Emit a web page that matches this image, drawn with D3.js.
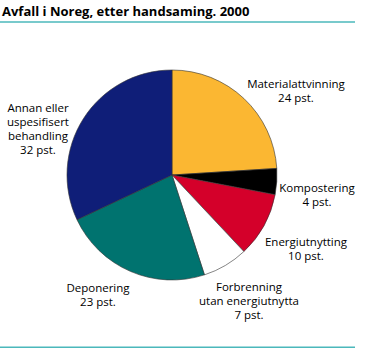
<!DOCTYPE html>
<html>
<head>
<meta charset="utf-8">
<script src="https://cdn.jsdelivr.net/npm/d3@7"></script>
<style>
  body { margin: 0; background: #fff; }
  svg { display: block; }
  text { font-family: "Open Sans", "DejaVu Sans", sans-serif; fill: #000; }
</style>
</head>
<body>
<svg id="chart" width="367" height="349"></svg>
<script>
// Waste treatment shares, Norway 2000 (per cent), clockwise from 12 o'clock
const categories = ["Materialattvinning", "Kompostering", "Energiutnytting",
  "Forbrenning utan energiutnytta", "Deponering", "Annan eller uspesifisert behandling"];
const values = [24, 4, 10, 7, 23, 32];
const colors = ["#fbb732", "#000000", "#d4002a", "#ffffff", "#00736f", "#0f1e78"];
// Label lines for each slice
const labelLines = [
  ["Materialattvinning", "24 pst."],
  ["Kompostering", "4 pst."],
  ["Energiutnytting", "10 pst."],
  ["Forbrenning", "utan energiutnytta", "7 pst."],
  ["Deponering", "23 pst."],
  ["Annan eller", "uspesifisert", "behandling", "32 pst."]
];
// Label anchor points (centre x, first baseline y)
const labelPos = [[296, 88], [317, 192], [306, 246], [249, 291], [98, 292], [38, 112]];

const svg = d3.select("#chart");
const cx = 172, cy = 175, r = 105;

svg.append("text")
  .attr("x", 2).attr("y", 16)
  .style("font-size", "13px").style("font-weight", "bold")
  .text("Avfall i Noreg, etter handsaming. 2000");

svg.append("line").attr("x1", 0).attr("x2", 355).attr("y1", 22).attr("y2", 22)
  .attr("stroke", "#4bb8bb").attr("stroke-width", 1.6);
svg.append("line").attr("x1", 0).attr("x2", 355).attr("y1", 347.3).attr("y2", 347.3)
  .attr("stroke", "#4bb8bb").attr("stroke-width", 1.6);

const pie = d3.pie().sort(null).value(d => d)(values);
const arc = d3.arc().innerRadius(0).outerRadius(r);

svg.append("g").attr("transform", `translate(${cx},${cy})`)
  .selectAll("path").data(pie).join("path")
  .attr("d", arc)
  .attr("fill", (d, i) => colors[i])
  .attr("stroke", "#333")
  .attr("stroke-width", 0.6);

const labels = svg.append("g");
labelLines.forEach((lines, i) => {
  const t = labels.append("text")
    .attr("text-anchor", "middle")
    .style("font-size", "11.5px");
  lines.forEach((ln, j) => {
    t.append("tspan").attr("x", labelPos[i][0]).attr("y", labelPos[i][1] + j * 14).text(ln);
  });
});
</script>
</body>
</html>
